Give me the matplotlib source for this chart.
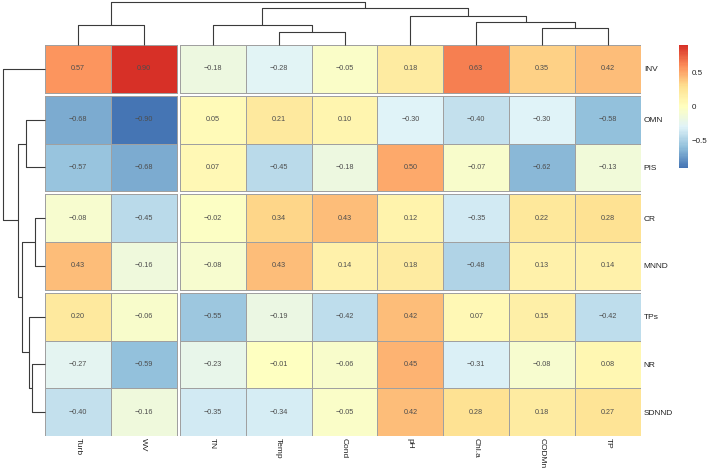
import matplotlib
matplotlib.use("Agg")
import matplotlib.pyplot as plt
import numpy as np
from matplotlib.colors import LinearSegmentedColormap, Normalize
from matplotlib.cm import ScalarMappable

plt.rcParams["font.family"] = ["Liberation Sans", "DejaVu Sans"]

row_labels = ["INV", "OMN", "PIS", "CR", "MNND", "TPs", "NR", "SDNND"]
col_labels = ["Turb", "WV", "TN", "Temp", "Cond", "pH", "Chl.a", "CODMn", "TP"]

inv = [0.57, 0.90, -0.18, -0.28, -0.05, 0.18, 0.63, 0.35, 0.42]
omn = [-0.68, -0.90, 0.05, 0.21, 0.10, -0.30, -0.40, -0.30, -0.58]
pis = [-0.57, -0.68, 0.07, -0.45, -0.18, 0.50, -0.07, -0.62, -0.13]
cr = [-0.08, -0.45, -0.02, 0.34, 0.43, 0.12, -0.35, 0.22, 0.28]
mnnd = [0.43, -0.16, -0.08, 0.43, 0.14, 0.18, -0.48, 0.13, 0.14]
tps = [0.20, -0.06, -0.55, -0.19, -0.42, 0.42, 0.07, 0.15, -0.42]
nr = [-0.27, -0.59, -0.23, -0.01, -0.06, 0.45, -0.31, -0.08, 0.08]
sdnnd = [-0.40, -0.16, -0.35, -0.34, -0.05, 0.42, 0.28, 0.18, 0.27]

# merges (left node, right node, height); leaves first, new nodes numbered after
col_merges = [(3, 4, 39), (7, 8, 52), (0, 1, 60), (2, 9, 60),
              (6, 10, 71), (5, 13, 88), (12, 14, 113), (11, 15, 130)]
row_merges = [(3, 4, 31), (6, 7, 40), (5, 9, 48), (1, 2, 58),
              (8, 10, 68), (11, 12, 80), (0, 13, 127)]

col_gaps = [2]
row_gaps = [1, 3, 5]
color_ticks = [-0.5, 0, 0.5]

vals = np.array([inv, omn, pis, cr, mnnd, tps, nr, sdnnd])
n_rows, n_cols = vals.shape

cmap = LinearSegmentedColormap.from_list(
    "rdylbu7", ["#4575B4", "#91BFDB", "#E0F3F8", "#FFFFBF", "#FEE090", "#FC8D59", "#D73027"], N=100)
norm = Normalize(vmin=-0.9, vmax=0.9)

W, H = 709, 470
fig = plt.figure(figsize=(W / 100, H / 100), dpi=100)

hm_left, hm_right, hm_top, hm_bottom = 45, 641, 45, 436
cell_w = (hm_right - hm_left - 3 * len(col_gaps)) / n_cols
cell_h = (hm_bottom - hm_top - 3 * len(row_gaps)) / n_rows
gx = 3 / cell_w
gy = 3 / cell_h


def offsets(n, gaps, g):
    """Start position of each cell, pushed along by the gaps before it."""
    return np.array([i + g * sum(i >= k for k in gaps) for i in range(n)])


x0 = offsets(n_cols, col_gaps, gx)
y0 = offsets(n_rows, row_gaps, gy)
x_max = n_cols + gx * len(col_gaps)
y_max = n_rows + gy * len(row_gaps)

ax = fig.add_axes([hm_left / W, 1 - hm_bottom / H, (hm_right - hm_left) / W, (hm_bottom - hm_top) / H])
col_bounds = [0] + col_gaps + [n_cols]
row_bounds = [0] + row_gaps + [n_rows]
for r0, r1 in zip(row_bounds[:-1], row_bounds[1:]):
    for c0, c1 in zip(col_bounds[:-1], col_bounds[1:]):
        X = np.append(x0[c0:c1], x0[c1 - 1] + 1)
        Y = np.append(y0[r0:r1], y0[r1 - 1] + 1)
        ax.pcolormesh(X, Y, vals[r0:r1, c0:c1], cmap=cmap, norm=norm,
                      edgecolors="#A0A0A0", linewidth=0.6)

for i in range(n_rows):
    for j in range(n_cols):
        ax.text(x0[j] + 0.5, y0[i] + 0.5, "{:.2f}".format(vals[i, j]).replace("-", "\u2212"),
                ha="center", va="center", fontsize=5.2, color="#4D4D4D")

ax.set_xlim(0, x_max)
ax.set_ylim(y_max, 0)
for s in ax.spines.values():
    s.set_visible(False)
ax.set_xticks(x0 + 0.5)
ax.set_xticklabels(col_labels, rotation=270, fontsize=6, color="#222222")
ax.yaxis.tick_right()
ax.set_yticks(y0 + 0.5)
ax.set_yticklabels(row_labels, fontsize=6, color="#222222")
ax.tick_params(axis="x", length=0, pad=1.5)
ax.tick_params(axis="y", length=0, pad=2)


def draw_dendrogram(dax, merges, leaf_pos, horizontal=False):
    """Draw U shaped links for each merge; leaves sit at height 0."""
    pos = list(leaf_pos)
    hgt = [0.0] * len(leaf_pos)
    for a, b, h in merges:
        xs = [pos[a], pos[a], pos[b], pos[b]]
        hs = [hgt[a], h, h, hgt[b]]
        if horizontal:
            dax.plot(hs, xs, color="#3A3A3A", lw=0.8, clip_on=False, solid_capstyle="butt")
        else:
            dax.plot(xs, hs, color="#3A3A3A", lw=0.8, clip_on=False, solid_capstyle="butt")
        pos.append((pos[a] + pos[b]) / 2)
        hgt.append(h)
    dax.axis("off")


col_top = 2.3
cdax = fig.add_axes([hm_left / W, 1 - hm_top / H, (hm_right - hm_left) / W, (hm_top - col_top) / H])
draw_dendrogram(cdax, col_merges, x0 + 0.5)
cdax.set_xlim(0, x_max)
cdax.set_ylim(0, max(m[2] for m in col_merges))

row_left = 2.7
rdax = fig.add_axes([row_left / W, 1 - hm_bottom / H, (hm_left - row_left) / W, (hm_bottom - hm_top) / H])
draw_dendrogram(rdax, row_merges, y0 + 0.5, horizontal=True)
rdax.set_xlim(max(m[2] for m in row_merges), 0)
rdax.set_ylim(y_max, 0)

cax = fig.add_axes([679 / W, 1 - 168 / H, 9 / W, 123 / H])
cb = fig.colorbar(ScalarMappable(norm=norm, cmap=cmap), cax=cax, ticks=color_ticks)
cb.outline.set_visible(False)
cb.ax.set_yticklabels(["{:g}".format(t).replace("-", "\u2212") for t in color_ticks], fontsize=5.8, color="#222222")
cb.ax.tick_params(length=0, pad=2.5)

fig.savefig("out.png", dpi=100)
